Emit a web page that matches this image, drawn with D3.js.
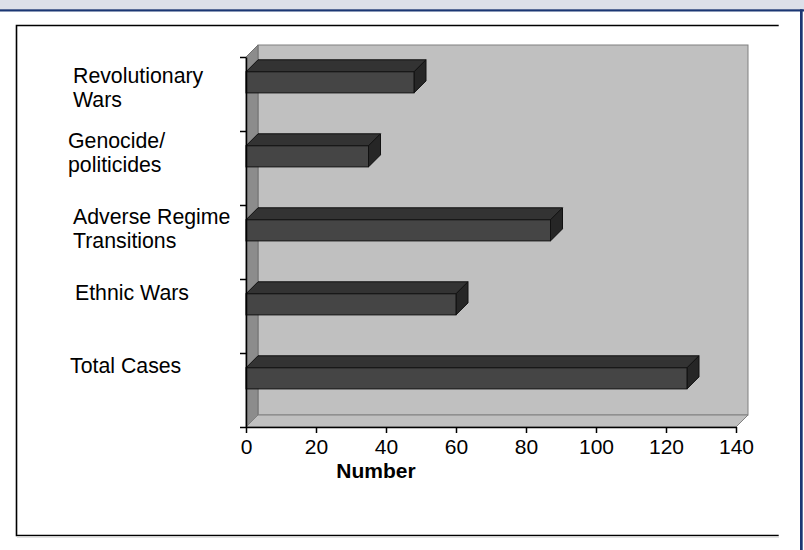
<!DOCTYPE html>
<html>
<head>
<meta charset="utf-8">
<script src="https://cdn.jsdelivr.net/npm/d3@7/dist/d3.min.js"></script>
<style>
  html, body { margin: 0; padding: 0; background: #ffffff; }
  svg { display: block; font-family: "Liberation Sans", Arial, sans-serif; }
</style>
</head>
<body>
<svg id="chart" width="804" height="550"></svg>
<script>
// Events by type (top to bottom as drawn)
const categories = ["Revolutionary Wars", "Genocide/politicides", "Adverse Regime Transitions", "Ethnic Wars", "Total Cases"];
const categoryLines = [["Revolutionary", "Wars"], ["Genocide/", "politicides"], ["Adverse Regime", "Transitions"], ["Ethnic Wars"], ["Total Cases"]];
const values = [48, 35, 87, 60, 126];
const xTicks = [0, 20, 40, 60, 80, 100, 120, 140];
const xTitle = "Number";

const svg = d3.select("#chart");

// Header band and page rules
svg.append("rect").attr("x", 0).attr("y", 0).attr("width", 804).attr("height", 9.5).attr("fill", "#dcdfe9");
svg.append("rect").attr("x", 0).attr("y", 9.3).attr("width", 804).attr("height", 2.2).attr("fill", "#1b3673");
svg.append("rect").attr("x", 800).attr("y", 9.3).attr("width", 2.7).attr("height", 541).attr("fill", "#1b3673");

// Chart frame (open on the right)
svg.append("path")
  .attr("d", "M778.7,25.5 H16.5 V535.5 H778.7")
  .attr("fill", "none").attr("stroke", "#000").attr("stroke-width", 1.6);
svg.append("line").attr("x1", 17).attr("x2", 779).attr("y1", 537.3).attr("y2", 537.3)
  .attr("stroke", "#e2e2e2").attr("stroke-width", 1.5);

// Scales
const depth = 12;
const x = d3.scaleLinear().domain([0, 140]).range([246, 736]);
const yTop = 57, yBot = 427;
const y = d3.scaleBand().domain(categories).range([yTop, yBot]).padding(0);
const yEdge = d3.scaleLinear().domain([0, categories.length]).range([yBot, yTop]);

const x0 = x(0), x1 = x(140);

// Back wall
svg.append("rect").attr("x", x0 + depth).attr("y", yTop - depth)
  .attr("width", x1 - x0).attr("height", yBot - yTop)
  .attr("fill", "#c0c0c0").attr("stroke", "#808080").attr("stroke-width", 1);

// Side wall
svg.append("polygon")
  .attr("points", [[x0, yTop], [x0 + depth, yTop - depth], [x0 + depth, yBot - depth], [x0, yBot]].join(" "))
  .attr("fill", "#8c8c8c").attr("stroke", "#707070").attr("stroke-width", 1);

// Floor
svg.append("polygon")
  .attr("points", [[x0, yBot], [x0 + depth, yBot - depth], [x1 + depth, yBot - depth], [x1, yBot]].join(" "))
  .attr("fill", "#c0c0c0").attr("stroke", "#808080").attr("stroke-width", 1);

// Bars (front, top and end faces)
const bw = y.bandwidth();
const bars = svg.append("g").selectAll("g").data(categories).join("g");
bars.each(function (c, i) {
  const g = d3.select(this);
  const t = y(c) + bw * 0.2;
  const h = bw * 0.285;
  const xe = x(values[i]);
  g.append("polygon")
    .attr("points", [[x0, t], [x0 + depth, t - depth], [xe + depth, t - depth], [xe, t]].join(" "))
    .attr("fill", "#333333").attr("stroke", "#111").attr("stroke-width", 1);
  g.append("polygon")
    .attr("points", [[xe, t], [xe + depth, t - depth], [xe + depth, t + h - depth], [xe, t + h]].join(" "))
    .attr("fill", "#262626").attr("stroke", "#111").attr("stroke-width", 1);
  g.append("rect").attr("x", x0).attr("y", t).attr("width", xe - x0).attr("height", h)
    .attr("fill", "#454545").attr("stroke", "#111").attr("stroke-width", 1);
});

// Value axis
const xAxis = svg.append("g").attr("transform", `translate(0,${yBot})`)
  .call(d3.axisBottom(x).tickValues(xTicks).tickSize(6).tickSizeOuter(0).tickPadding(6));
xAxis.select(".domain").attr("stroke", "#000").attr("stroke-width", 1.5);
xAxis.selectAll(".tick line").attr("stroke", "#000").attr("stroke-width", 1.5);
xAxis.selectAll(".tick text").attr("font-size", 21).attr("fill", "#000")
  .attr("font-family", "'Liberation Sans', Arial, sans-serif");

// Category axis
const yAxis = svg.append("g").attr("transform", `translate(${x0},0)`)
  .call(d3.axisLeft(yEdge).ticks(categories.length).tickSize(6).tickSizeOuter(0).tickFormat(""));
yAxis.select(".domain").attr("stroke", "#000").attr("stroke-width", 1.5);
yAxis.selectAll(".tick line").attr("stroke", "#000").attr("stroke-width", 1.5);

// Category labels
const labelNudge = [[73, -11], [68, -20], [73, -18], [75, -16], [70, -17]];
categories.forEach((c, i) => {
  const cy = y(c) + bw / 2;
  const txt = svg.append("text").attr("font-size", 21.3).attr("fill", "#000")
    .attr("x", labelNudge[i][0]).attr("y", cy + labelNudge[i][1]);
  categoryLines[i].forEach((ln, j) => {
    txt.append("tspan").attr("x", labelNudge[i][0]).attr("dy", j === 0 ? 0 : 24).text(ln);
  });
});

// Axis title
svg.append("text").attr("x", 376).attr("y", 478).attr("text-anchor", "middle")
  .attr("font-size", 21).attr("font-weight", "bold").attr("fill", "#000").text(xTitle);
</script>
</body>
</html>
